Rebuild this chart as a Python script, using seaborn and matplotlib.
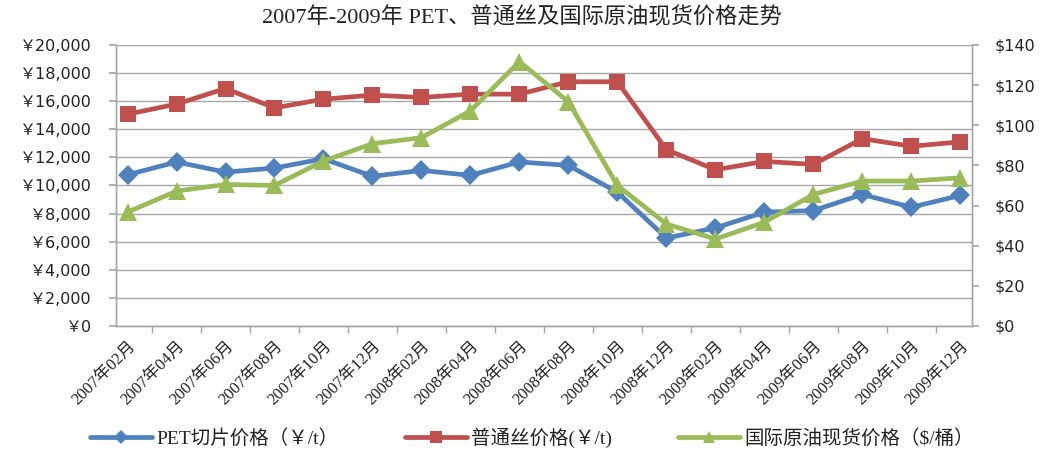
import matplotlib
matplotlib.use("Agg")
import matplotlib.pyplot as plt
import seaborn as sns
import pandas as pd
from matplotlib.lines import Line2D
from matplotlib.ticker import FuncFormatter, FixedLocator

# --- data ---
months = ["2007年02月", "2007年04月", "2007年06月", "2007年08月", "2007年10月", "2007年12月",
          "2008年02月", "2008年04月", "2008年06月", "2008年08月", "2008年10月", "2008年12月",
          "2009年02月", "2009年04月", "2009年06月", "2009年08月", "2009年10月", "2009年12月"]
pet_price = [10760, 11670, 10950, 11240, 11900, 10650, 11070, 10720, 11670,
             11430, 9520, 6260, 6980, 8100, 8210, 9360, 8450, 9290]
fiber_price = [15070, 15790, 16900, 15520, 16140, 16430, 16260, 16500, 16500,
               17380, 17380, 12550, 11120, 11710, 11500, 13330, 12790, 13100]
oil_price = [56.7, 67.2, 70.5, 70.0, 82.2, 90.8, 93.8, 107.2, 131.7,
             111.7, 70.0, 50.8, 43.3, 51.7, 65.5, 72.2, 72.2, 73.8]

labels = ["PET切片价格（￥/t）", "普通丝价格(￥/t)", "国际原油现货价格（$/桶）"]
colors = ["#4F81BD", "#C0504D", "#9BBB59"]

df = pd.DataFrame({"month": months, "pet": pet_price, "fiber": fiber_price, "oil": oil_price})

sns.set_theme(style="white")
plt.rcParams['font.family'] = ['DejaVu Sans', 'Noto Sans CJK SC']
serif = ['Liberation Serif', 'Noto Sans CJK SC']
grid_c = "#A6A6A6"
text_c = "#222222"

fig = plt.figure(figsize=(10.43, 4.54), dpi=100)
ax = fig.add_axes([0.111, 0.282, 0.821, 0.619])
ax2 = ax.twinx()

sns.lineplot(data=df, x="month", y="pet", ax=ax, color=colors[0], linewidth=3.4,
             marker="D", markersize=10, markeredgewidth=0, sort=False)
sns.lineplot(data=df, x="month", y="fiber", ax=ax, color=colors[1], linewidth=3.4,
             marker="s", markersize=12, markeredgewidth=0, sort=False)
sns.lineplot(data=df, x="month", y="oil", ax=ax2, color=colors[2], linewidth=3.4,
             marker="^", markersize=13, markeredgewidth=0, sort=False)

ax.set_ylim(0, 20000)
ax.set_yticks(range(0, 20001, 2000))
ax.yaxis.set_major_formatter(FuncFormatter(lambda v, p: "￥{:,.0f}".format(v)))
ax2.set_ylim(0, 140)
ax2.set_yticks(range(0, 141, 20))
ax2.yaxis.set_major_formatter(FuncFormatter(lambda v, p: "${:.0f}".format(v)))
ax.set_xlim(-0.24, len(months) - 0.76)

ax.grid(axis="y", color=grid_c, linewidth=1)
ax.set_axisbelow(True)
ax.set_xlabel("")
ax.set_ylabel("")
ax2.set_ylabel("")

for a in (ax, ax2):
    for s in a.spines.values():
        s.set_color(grid_c)
        s.set_linewidth(1)
ax.spines["top"].set_visible(False)
ax2.spines["top"].set_visible(False)

ax.tick_params(axis="y", which="major", direction="out", length=5, color=grid_c,
               labelsize=11.5, pad=13, labelcolor=text_c)
ax2.tick_params(axis="y", which="major", direction="out", length=5, color=grid_c,
                labelsize=11.5, pad=11, labelcolor=text_c)

ax.set_xticks(range(len(months)))
ax.set_xticklabels(months, rotation=45, ha="right", rotation_mode="anchor",
                   fontsize=12, family=serif, color=text_c)
ax.tick_params(axis="x", which="major", length=0, pad=9)
ax.xaxis.set_minor_locator(FixedLocator([i + 0.5 for i in range(len(months) - 1)]))
ax.tick_params(axis="x", which="minor", direction="out", length=5, color=grid_c, bottom=True)

fig.suptitle("2007年-2009年 PET、普通丝及国际原油现货价格走势", family=serif,
             fontsize=16, color=text_c, y=0.985)

handles = [Line2D([], [], color=colors[0], lw=3.4, marker="D", markersize=7, markeredgewidth=0),
           Line2D([], [], color=colors[1], lw=3.4, marker="s", markersize=9, markeredgewidth=0),
           Line2D([], [], color=colors[2], lw=3.4, marker="^", markersize=9, markeredgewidth=0)]
leg = fig.legend(handles, labels, loc="center", bbox_to_anchor=(0.51, 0.035), ncol=3,
                 frameon=False, handlelength=3.2, columnspacing=3.4, handletextpad=0.2,
                 prop={"family": serif, "size": 14})
for t in leg.get_texts():
    t.set_color(text_c)

fig.savefig("out.png", dpi=100)
